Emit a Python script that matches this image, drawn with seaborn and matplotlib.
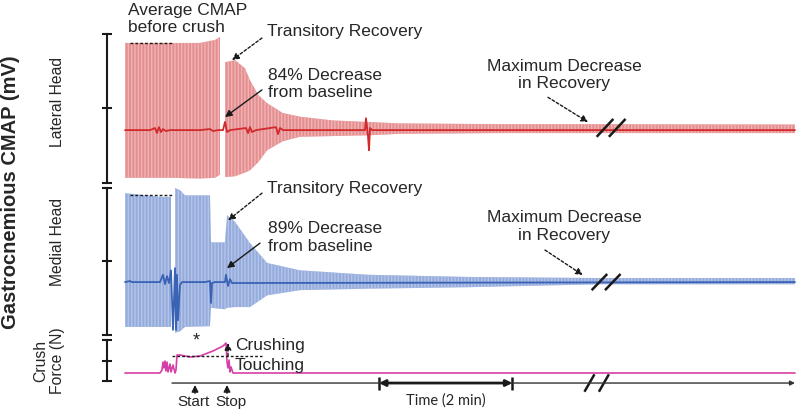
import numpy as np
import matplotlib
matplotlib.use("Agg")
import matplotlib.pyplot as plt
import seaborn as sns

nan = np.nan

# time axis in seconds, CMAP in mV, force in N
lat_env_t = [0, 40.5, 67.5, 81, 85.5, 86.4, 89.1, 90, 99, 108, 112.5, 120, 128, 142,
             157.5, 187, 218, 247.5, 337.5, 427.5, 603]
lat_env_hi = [11.8, 11.8, 11.8, 12.2, 12.6, nan, nan, 9.2, 9.5, 8.4, 6.8, 4.8, 3.7, 2.4,
              1.9, 1.4, 1.2, 1.0, 0.9, 0.9, 0.85]
lat_env_lo = [-6.3, -6.3, -6.4, -6.3, -5.9, nan, nan, -6.2, -6.1, -5.6, -5.3, -4.2, -2.6, -1.4,
              -0.8, -0.7, -0.6, -0.4, -0.3, -0.3, -0.3]

lat_base_t = [0, 22.5, 27, 28.8, 30.6, 32.4, 34.2, 36.9, 40.5, 67.5, 76.5, 79.2, 83.7, 88.2,
              90, 91.8, 94.5, 108.9, 110.7, 112.5, 114.3, 117.9, 135.9, 137.7, 139.5, 142.2,
              216, 216.9, 218.7, 219.6, 220.5, 222.3, 603]
lat_base_v = [0.1, 0.1, 0.38, -0.3, 0.5, -0.16, 0.24, -0.03, 0.1, 0.1, 0.24, -0.03, 0.1, 0.1,
              1.2, -0.16, 0.1, 0.38, -0.3, 0.5, -0.16, 0.1, 0.5, -0.43, 0.38, 0.1,
              0.1, 1.7, -0.7, -2.6, 0.38, 0.1, 0.1]

med_env_t = [0, 31.5, 41.4, 42.3, 44.1, 45, 49.5, 54, 76.5, 77.4, 90, 91.8, 99, 112.5, 128,
             157.5, 218, 308, 427.5, 603]
med_env_hi = [12.3, 11.8, 11.8, nan, nan, 13.0, 12.7, 12.0, 12.0, 5.6, 5.6, 9.3, 8.4, 5.5, 2.8,
              1.8, 1.2, 0.9, 0.75, 0.75]
med_env_lo = [-5.9, -5.9, -5.9, nan, nan, -6.7, -6.5, -5.9, -5.8, -3.3, -3.5, -3.3, -3.2, -3.2, -1.6,
              -0.9, -0.7, -0.5, -0.1, -0.1]

med_base_t = [0, 4.5, 6.3, 31.5, 34.2, 36, 37.8, 39.6, 41.4, 43.2, 45, 45.9, 46.8, 47.7, 49.5,
              51.3, 72, 76.5, 77.4, 78.3, 81, 90, 90.9, 92.7, 94.5, 96.3, 603]
med_base_v = [0.2, 0.34, 0.2, 0.2, 1.2, -0.07, 1.0, 0.07, 1.8, -6.3, 2.1, -6.3, 1.2, -5.0, -0.2,
              0.2, 0.2, 0.34, -2.65, 0.07, 0.2, 0.2, 1.2, -0.34, 0.6, 0.07, 0.2]

force_t = [0, 31.5, 33.3, 34.2, 35.1, 36, 36.9, 37.8, 38.7, 40.5, 41.4, 43.2, 45, 45.9, 46.8,
           49.5, 58.5, 67.5, 79.2, 88.2, 90.9, 91.8, 92.7, 93.6, 94.5, 95.4, 97.2, 603]
force_n = [0.78, 0.78, 1.07, 1.85, 1.27, 1.95, 0.98, 1.85, 0.88, 1.66, 0.88, 1.56, 0.78, 1.07, 2.54,
           2.54, 2.34, 2.44, 2.93, 3.41, 3.71, 1.85, 1.27, 2.05, 0.88, 1.37, 0.78, 0.78]

lat_avg_cmap = 11.75
med_avg_cmap = 12.0
touch_force = 2.44
crush_start, crush_stop = 63, 91.8
time_bar = [228.6, 348.6]   # 2 min
break_t = 430
cmap_ticks = [-7, 3, 13]
force_ticks = [0, 2, 4]

sns.set_theme(style="white")
plt.rcParams["font.family"] = ["Liberation Sans", "DejaVu Sans"]

W, H = 798, 411
fig = plt.figure(figsize=(W / 100, H / 100), dpi=100)
XLIM = (-16.2, 605.7)


def panel(top, bottom, ylim, ticks):
    ax = fig.add_axes([107 / W, 1 - bottom / H, 1 - 107 / W, (bottom - top) / H])
    ax.set_xlim(*XLIM)
    ax.set_ylim(*ylim)
    for s in ["top", "right", "bottom"]:
        ax.spines[s].set_visible(False)
    ax.spines["left"].set_color("k")
    ax.spines["left"].set_linewidth(1.5)
    ax.spines["left"].set_bounds(ticks[0], ticks[-1])
    ax.set_xticks([])
    ax.set_yticks(ticks)
    ax.tick_params(axis="y", left=True, direction="inout", length=7, width=1.5,
                   color="k", labelleft=False)
    ax.patch.set_alpha(0)
    return ax


def slashes(ax, t, y, dt, dy, gap):
    for off in (0, gap):
        ax.plot([t - dt + off, t + dt + off], [y - dy, y + dy], color="k", lw=1.8,
                solid_capstyle="butt", clip_on=False)


def arrow(ax, tail, tip, dotted=False, color="k"):
    ax.annotate("", xy=tip, xytext=tail,
                arrowprops=dict(arrowstyle="-|>", color=color, lw=1,
                                ls=(0, (2, 1.5)) if dotted else "-",
                                mutation_scale=10, shrinkA=0, shrinkB=0))


FS = 12.5

# ---- lateral head ----
ax1 = panel(34, 183, (-7, 13), cmap_ticks)
ax1.fill_between(lat_env_t, lat_env_lo, lat_env_hi, color="#e58e90", lw=0,
                 hatch="|||||", edgecolor="#efb3b4")
sns.lineplot(x=lat_base_t, y=lat_base_v, ax=ax1, color="#d22a2c", lw=1.3,
             sort=False, estimator=None)
ax1.plot([4.5, 42.3], [lat_avg_cmap] * 2, color="k", lw=1, ls=(0, (2, 1.5)))
slashes(ax1, break_t + 2, 0.4, 7.5, 1.2, 11)
ax1.text(2.7, 15.0, "Average CMAP\nbefore crush", fontsize=FS, va="center", ha="left")
ax1.text(127.8, 13.4, "Transitory Recovery", fontsize=FS, va="center")
arrow(ax1, (123.3, 12.46), (96.3, 9.5), dotted=True)
ax1.text(128.7, 6.3, "84% Decrease\nfrom baseline", fontsize=FS, va="center")
arrow(ax1, (123.3, 5.5), (90, 1.85))
ax1.text(395, 7.5, "Maximum Decrease\nin Recovery", fontsize=FS, va="center", ha="center")
arrow(ax1, (380.7, 4.5), (416.7, 1.18), dotted=True)

# ---- medial head ----
ax2 = panel(188, 335, (-7, 13), cmap_ticks)
ax2.fill_between(med_env_t, med_env_lo, med_env_hi, color="#94abdc", lw=0,
                 hatch="|||||", edgecolor="#b3c4e8")
sns.lineplot(x=med_base_t, y=med_base_v, ax=ax2, color="#3a62b5", lw=1.3,
             sort=False, estimator=None)
ax2.plot([4.5, 42.3], [med_avg_cmap] * 2, color="k", lw=1, ls=(0, (2, 1.5)))
slashes(ax2, break_t - 3, 0.2, 7, 1.1, 12)
ax2.text(127.8, 13.0, "Transitory Recovery", fontsize=FS, va="center")
arrow(ax2, (123.3, 12.3), (92.7, 8.6), dotted=True)
ax2.text(128.7, 6.26, "89% Decrease\nfrom baseline", fontsize=FS, va="center")
arrow(ax2, (121.5, 5.5), (91.8, 2.1))
ax2.text(395, 7.75, "Maximum Decrease\nin Recovery", fontsize=FS, va="center", ha="center")
arrow(ax2, (378, 4.56), (412, 1.16), dotted=True)

# ---- crush force + time axis ----
ax3 = panel(335, 411, (-2.93, 4.49), force_ticks)
sns.lineplot(x=force_t, y=force_n, ax=ax3, color="#d63fa6", lw=1.2,
             sort=False, estimator=None)
ax3.plot([42.3, 123.3], [touch_force] * 2, color="k", lw=1, ls=(0, (2, 1.5)))
arrow(ax3, (92.7, touch_force), (92.7, max(force_n)), dotted=True)
ax3.text(99, 3.51, "Crushing", fontsize=FS, va="center")
ax3.text(99, 1.56, "Touching", fontsize=FS, va="center")
ax3.text(63.9, 3.95, "*", fontsize=13, ha="center", va="center")
ax3.annotate("", xy=(603, -0.2), xytext=(42.3, -0.2),
             arrowprops=dict(arrowstyle="-|>", color="#333333", lw=1,
                             mutation_scale=7, shrinkA=0, shrinkB=0))
for t in (crush_start, crush_stop):
    ax3.annotate("", xy=(t, -0.39), xytext=(t, -1.2),
                 arrowprops=dict(arrowstyle="-|>", color="k", lw=1,
                                 mutation_scale=10, shrinkA=0, shrinkB=0))
ax3.text(crush_start - 1.8, -2.05, "Start", fontsize=11, ha="center", va="center")
ax3.text(crush_stop + 3.6, -2.05, "Stop", fontsize=11, ha="center", va="center")
ax3.annotate("", xy=(time_bar[1], -0.2), xytext=(time_bar[0], -0.2),
             arrowprops=dict(arrowstyle="<|-|>", color="k", lw=2,
                             mutation_scale=9, shrinkA=0, shrinkB=0))
ax3.vlines(time_bar, 0.39, -0.88, color="k", lw=1.8)
ax3.text(np.mean(time_bar), -1.95, "Time (2 min)", fontsize=10.5, ha="center",
         va="center", family=["Lato", "DejaVu Sans"])
slashes(ax3, break_t - 12, -0.2, 4.5, 0.85, 13)

# ---- axis labels ----
fig.text(11 / W, 1 - 192 / H, "Gastrocnemious CMAP (mV)", rotation=90, fontsize=14.5,
         fontweight="bold", ha="center", va="center")
fig.text(57 / W, 1 - 102 / H, "Lateral Head", rotation=90, fontsize=11.3,
         ha="center", va="center")
fig.text(57 / W, 1 - 242 / H, "Medial Head", rotation=90, fontsize=11.3,
         ha="center", va="center")
fig.text(49 / W, 1 - 361 / H, "Crush\nForce (N)", rotation=90, fontsize=11.3,
         ha="center", va="center")

fig.savefig("out.png", dpi=100)
